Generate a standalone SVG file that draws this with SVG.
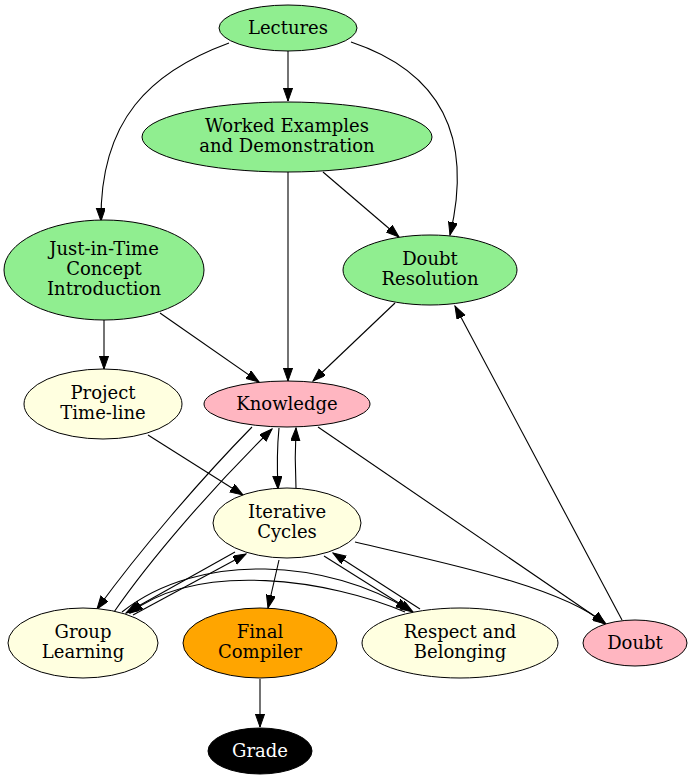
<svg xmlns="http://www.w3.org/2000/svg" width="692" height="781" viewBox="0 0 692 781">
<style>
.n ellipse{stroke:#000;stroke-width:1}
.n text{font-family:"DejaVu Serif","Liberation Serif",serif;font-size:18px;text-anchor:middle;fill:#000}
.g{fill:#90ee90}.p{fill:#ffb6c1}.y{fill:#ffffe0}.o{fill:#ffa500}.k{fill:#000}
#edges path{fill:none;stroke:#000;stroke-width:1.1;marker-end:url(#ah)}
</style>
<defs>
<marker id="ah" markerUnits="userSpaceOnUse" markerWidth="14" markerHeight="10" refX="13" refY="4.6" orient="auto">
<path d="M0,0 L13,4.6 L0,9.2 z" fill="#000" stroke="#000" stroke-width="1"/>
</marker>
</defs>
<rect width="692" height="781" fill="#fff"/>
<g id="edges">
<path d="M288,51 L288,101"/>
<path d="M229,43 C150,72 100,120 101,221"/>
<path d="M351,42 C435,70 475,130 450,235"/>
<path d="M288,172 L288,381"/>
<path d="M323,172 L399,237"/>
<path d="M104,320 L104,369"/>
<path d="M160,313 L259,382"/>
<path d="M395,303 L313,381"/>
<path d="M622,620 L455,306"/>
<path d="M148,435 L243,495"/>
<path d="M279,428 C277,448 277,468 278,489"/>
<path d="M296,488 C295,468 295,448 296,428"/>
<path d="M318,427 L606,624"/>
<path d="M355,542 C430,560 560,585 605,624"/>
<path d="M279,560 L268,608"/>
<path d="M260,679 L260,727"/>
<path d="M324,556 L413,612"/>
<path d="M420,609 L333,553"/>
<path d="M235,552 L126,613"/>
<path d="M133,615 L246,554"/>
<path d="M252,427 C200,480 140,550 97,609"/>
<path d="M114,612 C150,560 210,490 272,429"/>
<path d="M122,612 C200,550 330,560 409,610"/>
<path d="M405,612 C330,580 200,560 130,613"/>
</g>
<g id="lectures" class="n"><ellipse class="g" cx="288" cy="28" rx="69" ry="23"/><text x="288" y="34">Lectures</text></g>
<g id="worked" class="n"><ellipse class="g" cx="287" cy="137" rx="145" ry="35"/><text x="287" y="132">Worked Examples</text><text x="287" y="152">and Demonstration</text></g>
<g id="jit" class="n"><ellipse class="g" cx="104" cy="270" rx="100" ry="50"/><text x="104" y="255">Just-in-Time</text><text x="104" y="275">Concept</text><text x="104" y="295">Introduction</text></g>
<g id="doubtres" class="n"><ellipse class="g" cx="430" cy="270" rx="87" ry="35"/><text x="430" y="265">Doubt</text><text x="430" y="285">Resolution</text></g>
<g id="project" class="n"><ellipse class="y" cx="103" cy="404" rx="79" ry="35"/><text x="103" y="399">Project</text><text x="103" y="419">Time-line</text></g>
<g id="knowledge" class="n"><ellipse class="p" cx="287" cy="404" rx="83" ry="23"/><text x="287" y="410">Knowledge</text></g>
<g id="iterative" class="n"><ellipse class="y" cx="287" cy="523" rx="74" ry="35"/><text x="287" y="518">Iterative</text><text x="287" y="538">Cycles</text></g>
<g id="group" class="n"><ellipse class="y" cx="83" cy="643" rx="75" ry="35"/><text x="83" y="638">Group</text><text x="83" y="658">Learning</text></g>
<g id="final" class="n"><ellipse class="o" cx="260" cy="643" rx="77" ry="35"/><text x="260" y="638">Final</text><text x="260" y="658">Compiler</text></g>
<g id="respect" class="n"><ellipse class="y" cx="460" cy="643" rx="98" ry="35"/><text x="460" y="638">Respect and</text><text x="460" y="658">Belonging</text></g>
<g id="doubt" class="n"><ellipse class="p" cx="635" cy="643" rx="52" ry="23"/><text x="635" y="649">Doubt</text></g>
<g id="grade" class="n"><ellipse class="k" cx="260" cy="751" rx="52" ry="23"/><text x="260" y="757" style="fill:#fff">Grade</text></g>
</svg>
